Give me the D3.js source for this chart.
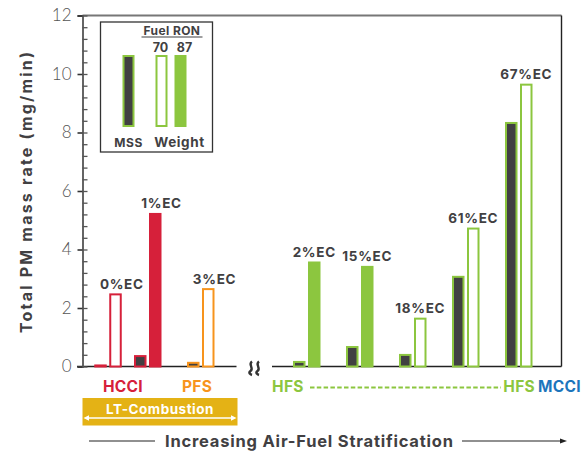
<!DOCTYPE html>
<html>
<head>
<meta charset="utf-8">
<script src="https://cdn.jsdelivr.net/npm/d3@7"></script>
<style>
  html, body { margin: 0; padding: 0; background: #fff; }
  svg { display: block; }
  text { font-family: Inter, "Open Sans", sans-serif; }
</style>
</head>
<body>
<svg id="chart" width="582" height="451"></svg>
<script>
// PM emissions per combustion mode, two measurement methods
const groups     = ["HCCI 0%EC", "HCCI 1%EC", "PFS 3%EC", "HFS 2%EC", "HFS 15%EC", "HFS 18%EC", "HFS 61%EC", "HFS 67%EC"];
const ecLabels   = ["0%EC", "1%EC", "3%EC", "2%EC", "15%EC", "18%EC", "61%EC", "67%EC"];
const modes      = ["HCCI", "HCCI", "PFS", "HFS", "HFS", "HFS", "HFS", "HFS"];
const fuelRON    = [70, 87, 70, 87, 87, 70, 70, 70];
const mssRate    = [0.07, 0.39, 0.16, 0.19, 0.70, 0.43, 3.10, 8.36];   // mg/min, MSS
const weightRate = [2.50, 5.25, 2.68, 3.59, 3.44, 1.67, 4.75, 9.67];   // mg/min, filter weight
const yTicks     = [0, 2, 4, 6, 8, 10, 12];

const modeColor = { HCCI: "#d6203a", PFS: "#f7941d", HFS: "#8cc63f", MCCI: "#1c75bc" };
const dark = "#414042";
const ink = "#414042";

// horizontal slot of each group (HCCI pair sits a little closer together)
const groupSlot = [-0.75, 0, 1, 3, 4, 5, 6, 7];

const svg = d3.select("#chart");

const y = d3.scaleLinear().domain([0, 12]).range([366.5, 15.5]);
const x = d3.scaleLinear().domain([0, 7]).range([134, 505]);
const barW = 12.5, pairGap = 15, sw = 2;
const axisX = 82.5, plotRight = 561.5;

// frame: top and right edges
svg.append("line").attr("x1", axisX).attr("x2", plotRight).attr("y1", y(12)).attr("y2", y(12))
  .attr("stroke", "#777").attr("stroke-width", 1.8);
svg.append("line").attr("x1", plotRight).attr("x2", plotRight).attr("y1", y(12)).attr("y2", y(0))
  .attr("stroke", "#222").attr("stroke-width", 1.4);

// baseline, broken between the two groups of modes
svg.append("line").attr("x1", 77).attr("x2", 236.5).attr("y1", y(0)).attr("y2", y(0))
  .attr("stroke", "#222").attr("stroke-width", 1.6);
svg.append("line").attr("x1", 272).attr("x2", plotRight).attr("y1", y(0)).attr("y2", y(0))
  .attr("stroke", "#222").attr("stroke-width", 1.6);

// axis break mark
[250.5, 257.5].forEach(cx => {
  svg.append("path")
    .attr("d", `M${cx + 1.5},361.5 C${cx - 3},364.5 ${cx + 4},368 ${cx},371 C${cx - 2.5},373 ${cx},374.5 ${cx + 1.5},375`)
    .attr("fill", "none").attr("stroke", "#333").attr("stroke-width", 2.4);
});

// y axis: major ticks with labels, minor ticks inside
const yMajor = svg.append("g").attr("transform", `translate(${axisX},0)`)
  .call(d3.axisLeft(y).tickValues(yTicks).tickSize(5).tickPadding(6).tickFormat(d3.format("d")));
yMajor.select(".domain").attr("stroke", "#555").attr("stroke-width", 1.8);
yMajor.selectAll(".tick line").attr("stroke", "#333").attr("stroke-width", 1.6);
yMajor.selectAll(".tick text").attr("fill", "#555").attr("font-size", 17)
  .attr("font-weight", 300).style("font-family", "Lato, Inter, sans-serif");

const yMinor = svg.append("g").attr("transform", `translate(${axisX},0)`)
  .call(d3.axisRight(y).tickValues(d3.range(0, 12.001, 0.4)).tickSize(5).tickFormat(""));
yMinor.select(".domain").remove();
yMinor.selectAll(".tick line").attr("stroke", "#555").attr("stroke-width", 1.3);

// y title
svg.append("text")
  .attr("transform", `translate(32,192.5) rotate(-90)`)
  .attr("text-anchor", "middle").attr("font-size", 16).attr("font-weight", 700)
  .attr("textLength", 281).attr("lengthAdjust", "spacing")
  .attr("fill", ink).text("Total PM mass rate (mg/min)");

// bars
const barData = groups.map((g, i) => ({
  i, g, mode: modes[i], ron: fuelRON[i], mss: mssRate[i], weight: weightRate[i], label: ecLabels[i]
}));

function drawBar(left, value, fill, stroke) {
  const top = y(value);
  svg.append("rect")
    .attr("x", left + sw / 2).attr("width", barW - sw)
    .attr("y", top + sw / 2).attr("height", Math.max(0, y(0) - top - sw / 2))
    .attr("fill", fill).attr("stroke", stroke).attr("stroke-width", sw);
}

barData.forEach(d => {
  const c = modeColor[d.mode];
  const left = x(groupSlot[d.i]);
  drawBar(left, d.mss, dark, c);
  drawBar(left + pairGap, d.weight, d.ron === 87 ? c : "#fff", c);
  // value tags sit over the weight bar; low-temperature modes shift slightly right
  const shift = d.mode === "HFS" ? 0 : 6.3;
  svg.append("text")
    .attr("x", left + pairGap + barW / 2 + shift).attr("y", y(d.weight) - 4.5)
    .attr("text-anchor", "middle").attr("font-size", 13.5).attr("font-weight", 700)
    .attr("letter-spacing", 0.7)
    .attr("fill", ink).text(d.label);
});

// legend
const lg = svg.append("g");
lg.append("rect").attr("x", 100.5).attr("y", 22).attr("width", 112).attr("height", 130)
  .attr("fill", "#fff").attr("stroke", "#333").attr("stroke-width", 1.3);
lg.append("text").attr("x", 172).attr("y", 34.5).attr("text-anchor", "middle")
  .attr("font-size", 12).attr("font-weight", 700).attr("letter-spacing", 0.4)
  .attr("fill", ink).text("Fuel RON");
lg.append("line").attr("x1", 141.5).attr("x2", 202.5).attr("y1", 37).attr("y2", 37)
  .attr("stroke", ink).attr("stroke-width", 1.2);
lg.append("text").attr("x", 160.5).attr("y", 52).attr("text-anchor", "middle")
  .attr("font-size", 12.5).attr("font-weight", 700).attr("fill", ink).text("70");
lg.append("text").attr("x", 184.5).attr("y", 52).attr("text-anchor", "middle")
  .attr("font-size", 12.5).attr("font-weight", 700).attr("fill", ink).text("87");
const legBar = (lx, fill) => lg.append("rect")
  .attr("x", lx + 1).attr("y", 56).attr("width", 10).attr("height", 70)
  .attr("fill", fill).attr("stroke", modeColor.HFS).attr("stroke-width", 2);
legBar(122.5, dark);
legBar(155.5, "#fff");
legBar(174.5, modeColor.HFS);
lg.append("text").attr("x", 128.5).attr("y", 147).attr("text-anchor", "middle")
  .attr("font-size", 12).attr("font-weight", 700).attr("letter-spacing", 0.6)
  .attr("fill", ink).text("MSS");
lg.append("text").attr("x", 179.5).attr("y", 147).attr("text-anchor", "middle")
  .attr("font-size", 13.5).attr("font-weight", 700).attr("letter-spacing", 0.6)
  .attr("fill", ink).text("Weight");

// mode labels under the axis
const modeLab = (tx, anchor, txt, col) => svg.append("text")
  .attr("x", tx).attr("y", 391.5).attr("text-anchor", anchor)
  .attr("font-size", 15.5).attr("font-weight", 700).attr("letter-spacing", 0.3)
  .attr("fill", col).text(txt);
modeLab(123, "middle", "HCCI", modeColor.HCCI);
modeLab(197, "middle", "PFS", modeColor.PFS);
modeLab(272, "start", "HFS", modeColor.HFS);
modeLab(535, "end", "HFS", modeColor.HFS);
modeLab(581, "end", "MCCI", modeColor.MCCI);
svg.append("line").attr("x1", 310).attr("x2", 501).attr("y1", 387.5).attr("y2", 387.5)
  .attr("stroke", modeColor.HFS).attr("stroke-width", 2).attr("stroke-dasharray", "4.5,2.3");

// LT-Combustion band
svg.append("rect").attr("x", 82.5).attr("y", 398).attr("width", 155).attr("height", 27.5)
  .attr("fill", "#e4b215");
svg.append("text").attr("x", 160).attr("y", 413.5).attr("text-anchor", "middle")
  .attr("font-size", 13.5).attr("font-weight", 700).attr("letter-spacing", 0.5)
  .attr("fill", "#fff").text("LT-Combustion");
svg.append("line").attr("x1", 86).attr("x2", 234).attr("y1", 418).attr("y2", 418)
  .attr("stroke", "#fff").attr("stroke-width", 1.3);
svg.append("path").attr("d", "M83.5,418 L89,415.3 L89,420.7 Z").attr("fill", "#fff");
svg.append("path").attr("d", "M236.5,418 L231,415.3 L231,420.7 Z").attr("fill", "#fff");

// stratification arrow
svg.append("line").attr("x1", 89).attr("x2", 155).attr("y1", 441).attr("y2", 441)
  .attr("stroke", "#222").attr("stroke-width", 1.2);
svg.append("line").attr("x1", 462).attr("x2", 562).attr("y1", 441).attr("y2", 441)
  .attr("stroke", "#222").attr("stroke-width", 1.2);
svg.append("path").attr("d", "M567,441 L560,438.5 L560,443.5 Z").attr("fill", "#222");
svg.append("text").attr("x", 309).attr("y", 447).attr("text-anchor", "middle")
  .attr("font-size", 16.5).attr("font-weight", 700)
  .attr("textLength", 288).attr("lengthAdjust", "spacing")
  .attr("fill", ink).text("Increasing Air-Fuel Stratification");
</script>
</body>
</html>
